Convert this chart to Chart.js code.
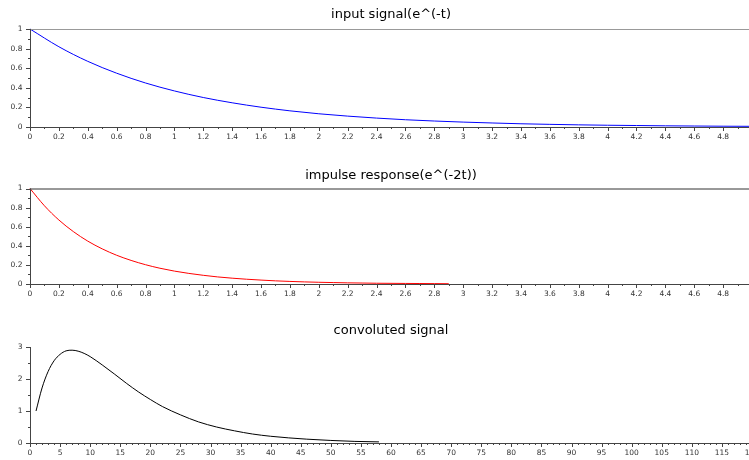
<!DOCTYPE html>
<html>
<head>
<meta charset="utf-8">
<script src="https://cdn.jsdelivr.net/npm/chart.js@4"></script>
<style>
  body { margin: 0; overflow: hidden; background: #fff; }
  canvas { position: absolute; left: 0; }
</style>
</head>
<body>
<canvas id="inputChart"></canvas>
<canvas id="impulseChart"></canvas>
<canvas id="convChart"></canvas>
<script>
// input signal e^(-t)
const tInput = [0, 0.2, 0.4, 0.6, 0.8, 1.0, 1.2, 1.4, 1.6, 1.8, 2.0, 2.2, 2.4, 2.6, 2.8,
    3.0, 3.2, 3.4, 3.6, 3.8, 4.0, 4.2, 4.4, 4.6, 4.8, 5.0];
const inputSignal = [1.000, 0.819, 0.670, 0.549, 0.449, 0.368, 0.301, 0.247, 0.202, 0.165,
    0.135, 0.111, 0.091, 0.074, 0.061, 0.050, 0.041, 0.033, 0.027, 0.022, 0.018, 0.015,
    0.012, 0.010, 0.008, 0.007];

// impulse response e^(-2t), visible part
const tImpulse = [0, 0.1, 0.2, 0.3, 0.4, 0.5, 0.6, 0.7, 0.8, 0.9, 1.0, 1.1, 1.2, 1.3, 1.4,
    1.5, 1.6, 1.7, 1.8, 1.9, 2.0, 2.1, 2.2, 2.3, 2.4, 2.5, 2.6, 2.7, 2.8, 2.9];
const impulseResponse = [1.000, 0.819, 0.670, 0.549, 0.449, 0.368, 0.301, 0.247, 0.202, 0.165,
    0.135, 0.111, 0.091, 0.074, 0.061, 0.050, 0.041, 0.033, 0.027, 0.022, 0.018, 0.015,
    0.012, 0.010, 0.008, 0.007, 0.006, 0.005, 0.004, 0.003];

// convoluted signal (sample index)
const nConv = [1, 2, 3, 4, 5, 6, 7, 8, 9, 10, 12, 14, 16, 18, 20, 22, 25, 28, 31, 34, 37,
    40, 43, 46, 50, 54, 58];
const convSignal = [1.00, 1.72, 2.23, 2.57, 2.77, 2.88, 2.90, 2.87, 2.80, 2.70, 2.44, 2.16,
    1.87, 1.60, 1.36, 1.14, 0.88, 0.66, 0.50, 0.38, 0.28, 0.21, 0.16, 0.12, 0.08, 0.05, 0.035];

// tick labels
const timeTickLabels = ['0', '0.2', '0.4', '0.6', '0.8', '1', '1.2', '1.4', '1.6', '1.8', '2',
    '2.2', '2.4', '2.6', '2.8', '3', '3.2', '3.4', '3.6', '3.8', '4', '4.2', '4.4', '4.6', '4.8'];
const unitTickLabels = ['0', '0.2', '0.4', '0.6', '0.8', '1'];
const convXTickLabels = ['0', '5', '10', '15', '20', '25', '30', '35', '40', '45', '50', '55',
    '60', '65', '70', '75', '80', '85', '90', '95', '100', '105', '110', '115', '120'];
const convYTickLabels = ['0', '1', '2', '3'];

Chart.defaults.font.family = 'DejaVu Sans';
Chart.defaults.animation = false;

// scilab style axes: tick marks with minor ticks, optional top line
const scilabAxes = {
    id: 'scilabAxes',
    afterDatasetsDraw(chart, args, opts) {
        const ctx = chart.ctx;
        const xs = chart.scales.x, ys = chart.scales.y, a = chart.chartArea;
        ctx.save();
        ctx.lineWidth = 1;
        if (opts.topColor) {
            ctx.strokeStyle = opts.topColor;
            ctx.beginPath();
            ctx.moveTo(a.left, a.top + 0.5);
            ctx.lineTo(a.right, a.top + 0.5);
            ctx.stroke();
        }
        ctx.strokeStyle = '#444';
        ctx.beginPath();
        ctx.moveTo(a.left + 0.5, a.top);
        ctx.lineTo(a.left + 0.5, a.bottom + 0.5);
        ctx.lineTo(a.right, a.bottom + 0.5);
        const nx = Math.round((xs.max - xs.min) / opts.xMinor);
        for (let i = 0; i <= nx; i++) {
            const px = Math.round(xs.getPixelForValue(xs.min + i * opts.xMinor)) + 0.5;
            const len = i % opts.xRatio === 0 ? 4 : 2;
            ctx.moveTo(px, a.bottom);
            ctx.lineTo(px, a.bottom + len);
        }
        const ny = Math.round((ys.max - ys.min) / opts.yMinor);
        for (let i = 0; i <= ny; i++) {
            const py = Math.round(ys.getPixelForValue(ys.min + i * opts.yMinor)) + 0.5;
            const len = i % opts.yRatio === 0 ? 4 : 2;
            ctx.moveTo(a.left, py);
            ctx.lineTo(a.left - len, py);
        }
        ctx.stroke();
        ctx.restore();
    }
};

function makePlot(id, top, height, cfg) {
    const canvas = document.getElementById(id);
    canvas.width = 770;
    canvas.height = height;
    canvas.style.top = top + 'px';
    return new Chart(canvas.getContext('2d'), {
        type: 'line',
        data: {
            datasets: [{
                data: cfg.xs.map((x, i) => ({ x, y: cfg.ys[i] })),
                borderColor: cfg.color,
                borderWidth: 1,
                pointRadius: 0,
                cubicInterpolationMode: 'monotone',
                clip: false
            }]
        },
        plugins: [scilabAxes],
        options: {
            responsive: false,
            devicePixelRatio: 1,
            layout: { padding: { left: 0, right: 18, top: 0, bottom: 0 } },
            plugins: {
                legend: { display: false },
                tooltip: { enabled: false },
                title: {
                    display: true,
                    fullSize: false,
                    text: cfg.title,
                    color: '#000',
                    font: { size: 13, weight: 'normal', lineHeight: 1.2 },
                    padding: cfg.titlePad
                },
                scilabAxes: cfg.axes
            },
            scales: {
                x: {
                    type: 'linear',
                    min: cfg.xMin,
                    max: cfg.xMax,
                    grid: { display: false, drawTicks: false },
                    border: { display: false },
                    afterBuildTicks: s => { s.ticks = cfg.xLabels.map(l => ({ value: parseFloat(l) })); },
                    afterFit: s => { s.height = 20; },
                    ticks: {
                        autoSkip: false,
                        maxRotation: 0,
                        padding: 6,
                        color: '#333',
                        font: { size: 7.5 },
                        callback: v => cfg.xLabels.find(l => parseFloat(l) === v)
                    }
                },
                y: {
                    min: 0,
                    max: cfg.yMax,
                    grid: { display: false, drawTicks: false },
                    border: { display: false },
                    afterBuildTicks: s => { s.ticks = cfg.yLabels.map(l => ({ value: parseFloat(l) })); },
                    afterFit: s => { s.width = 30; },
                    ticks: {
                        padding: 7.5,
                        color: '#333',
                        font: { size: 7.5 },
                        callback: v => cfg.yLabels.find(l => parseFloat(l) === v)
                    }
                }
            }
        }
    });
}

makePlot('inputChart', 0, 147, {
    title: 'input signal(e^(-t)',
    titlePad: { top: 7, bottom: 6.4 },
    xs: tInput, ys: inputSignal, color: '#0000ff',
    xMin: 0, xMax: 5, yMax: 1,
    xLabels: timeTickLabels, yLabels: unitTickLabels,
    axes: { topColor: '#999', xMinor: 0.1, xRatio: 2, yMinor: 0.1, yRatio: 2 }
});

makePlot('impulseChart', 160, 144, {
    title: 'impulse response(e^(-2t))',
    titlePad: { top: 7.7, bottom: 5.2 },
    xs: tImpulse, ys: impulseResponse, color: '#ff0000',
    xMin: 0, xMax: 5, yMax: 1,
    xLabels: timeTickLabels, yLabels: unitTickLabels,
    axes: { topColor: '#333', xMinor: 0.1, xRatio: 2, yMinor: 0.1, yRatio: 2 }
});

makePlot('convChart', 316, 147, {
    title: 'convoluted signal',
    titlePad: { top: 7.2, bottom: 8.2 },
    xs: nConv, ys: convSignal, color: '#000000',
    xMin: 0, xMax: 120, yMax: 3,
    xLabels: convXTickLabels, yLabels: convYTickLabels,
    axes: { topColor: null, xMinor: 1, xRatio: 5, yMinor: 0.5, yRatio: 2 }
});
</script>
</body>
</html>
